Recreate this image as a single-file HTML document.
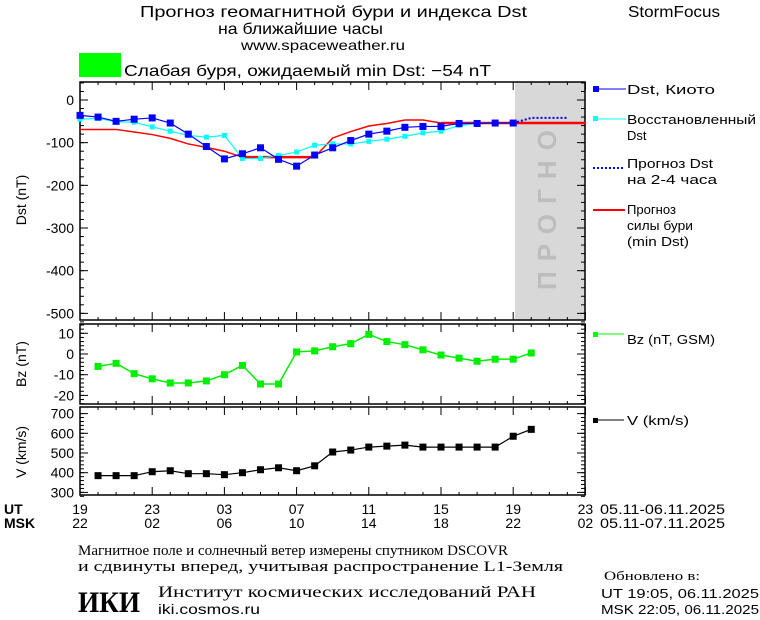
<!DOCTYPE html>
<html><head><meta charset="utf-8"><style>
body{margin:0;background:#fff;width:760px;height:620px;overflow:hidden}
svg{display:block}
text{font-family:"Liberation Sans","DejaVu Sans",sans-serif;fill:#000}
.s{font-family:"Liberation Serif","DejaVu Serif",serif}
</style></head><body>
<svg id="c" width="760" height="620" xmlns="http://www.w3.org/2000/svg">
<rect width="760" height="620" fill="#fff"/>
<text x="140" y="17" font-size="16" textLength="387" lengthAdjust="spacingAndGlyphs">Прогноз геомагнитной бури и индекса Dst</text>
<text x="218" y="34" font-size="16" textLength="165" lengthAdjust="spacingAndGlyphs">на ближайшие часы</text>
<text x="241" y="50" font-size="14" textLength="164" lengthAdjust="spacingAndGlyphs">www.spaceweather.ru</text>
<text x="628" y="17" font-size="16" textLength="92" lengthAdjust="spacingAndGlyphs">StormFocus</text>
<rect x="79" y="53" width="42" height="24" fill="#00ff00"/>
<text x="124" y="76" font-size="16" textLength="367" lengthAdjust="spacingAndGlyphs">Слабая буря, ожидаемый min Dst: −54 nT</text>
<rect x="515" y="82" width="70" height="238" fill="#d8d8d8"/>
<text transform="translate(556,290) rotate(-90)" font-size="26" font-weight="bold" style="fill:#bdbdbd" textLength="160" lengthAdjust="spacing">ПРОГНО</text>
<g id="g"></g>
<text x="22" y="200" font-size="14" transform="rotate(-90 22 200)" text-anchor="middle" dy="4">Dst (nT)</text>
<text x="22" y="364" font-size="14" transform="rotate(-90 22 364)" text-anchor="middle" dy="4">Bz (nT)</text>
<text x="22" y="452" font-size="14" transform="rotate(-90 22 452)" text-anchor="middle" dy="4">V (km/s)</text>
<g font-size="13">
<rect x="593" y="86" width="6" height="6" fill="#0000ff"/><line x1="599" y1="89" x2="626" y2="89" stroke="#0000ff"/>
<text x="627" y="94" font-size="13" textLength="88" lengthAdjust="spacingAndGlyphs">Dst, Киото</text>
<rect x="593" y="116" width="5" height="5" fill="#00ffff"/><line x1="598" y1="119" x2="626" y2="119" stroke="#00ffff"/>
<text x="627" y="124" font-size="13" textLength="129" lengthAdjust="spacingAndGlyphs">Восстановленный</text><text x="627" y="140" font-size="13">Dst</text>
<line x1="593" y1="168" x2="625" y2="168" stroke="#0000ff" stroke-width="2" stroke-dasharray="2,2"/>
<text x="627" y="168" font-size="13" textLength="86" lengthAdjust="spacingAndGlyphs">Прогноз Dst</text><text x="627" y="184" font-size="13" textLength="90" lengthAdjust="spacingAndGlyphs">на 2-4 часа</text>
<line x1="593" y1="210" x2="625" y2="210" stroke="#ff0000" stroke-width="2"/>
<text x="627" y="214" font-size="13" textLength="49" lengthAdjust="spacingAndGlyphs">Прогноз</text><text x="627" y="230" font-size="13" textLength="66" lengthAdjust="spacingAndGlyphs">силы бури</text><text x="627" y="246" font-size="13" textLength="62" lengthAdjust="spacingAndGlyphs">(min Dst)</text>
<rect x="593" y="332" width="5" height="5" fill="#00ff00"/><line x1="598" y1="334" x2="624" y2="334" stroke="#00ff00"/>
<text x="627" y="344" font-size="13" textLength="88" lengthAdjust="spacingAndGlyphs">Bz (nT, GSM)</text>
<rect x="593" y="418" width="5" height="5" fill="#000"/><line x1="598" y1="420" x2="624" y2="420" stroke="#000"/>
<text x="627" y="425" font-size="13" textLength="62" lengthAdjust="spacingAndGlyphs">V (km/s)</text>
</g>
<text x="4" y="514" font-size="14" font-weight="bold">UT</text>
<text x="4" y="528" font-size="14" font-weight="bold">MSK</text>
<text x="600" y="514" font-size="14" textLength="125" lengthAdjust="spacingAndGlyphs">05.11-06.11.2025</text>
<text x="600" y="528" font-size="14" textLength="125" lengthAdjust="spacingAndGlyphs">05.11-07.11.2025</text>
<text class="s" x="78" y="555" font-size="15" textLength="430" lengthAdjust="spacingAndGlyphs">Магнитное поле и солнечный ветер измерены спутником DSCOVR</text>
<text class="s" x="78" y="571" font-size="15" textLength="485" lengthAdjust="spacingAndGlyphs">и сдвинуты вперед, учитывая распространение L1-Земля</text>
<text class="s" x="78" y="612" font-size="30" font-weight="bold" textLength="62" lengthAdjust="spacingAndGlyphs">ИКИ</text>
<text class="s" x="158" y="597" font-size="16" textLength="378" lengthAdjust="spacingAndGlyphs">Институт космических исследований РАН</text>
<text x="158" y="614" font-size="14" textLength="102" lengthAdjust="spacingAndGlyphs">iki.cosmos.ru</text>
<text class="s" x="604" y="580" font-size="13" textLength="96" lengthAdjust="spacingAndGlyphs">Обновлено в:</text>
<text x="601" y="598" font-size="13" textLength="158" lengthAdjust="spacingAndGlyphs">UT   19:05, 06.11.2025</text>
<text x="601" y="614" font-size="13" textLength="158" lengthAdjust="spacingAndGlyphs">MSK 22:05, 06.11.2025</text>
</svg>
<script>
const g=document.getElementById('g');let h='';
const X=k=>80+18.05*k;
function frame(y0,y1){h+=`<rect x="80" y="${y0}" width="505" height="${y1-y0}" fill="none" stroke="#000" stroke-width="1.5"/>`;
 for(let k=0;k<=28;k++){const x=X(k);const L=k%4==0?8:3;h+=`<line x1="${x}" y1="${y1}" x2="${x}" y2="${y1-L}" stroke="#000"/><line x1="${x}" y1="${y0}" x2="${x}" y2="${y0+L}" stroke="#000"/>`;}}
function yt(vals,f,minor,lo,hi){vals.forEach(v=>{const y=f(v);h+=`<text x="74" y="${y+5}" font-size="14" text-anchor="end">${v}</text><line x1="80" y1="${y}" x2="88" y2="${y}" stroke="#000"/><line x1="585" y1="${y}" x2="577" y2="${y}" stroke="#000"/>`;});
 for(let v=lo;v<=hi;v+=minor){const y=f(v);h+=`<line x1="80" y1="${y}" x2="84" y2="${y}" stroke="#000"/><line x1="585" y1="${y}" x2="581" y2="${y}" stroke="#000"/>`;}}
const fD=v=>100-v*0.4267, fB=v=>354-v*2.07, fV=v=>453-(v-500)*0.197;
frame(82,320);frame(324,404);frame(407,495);
yt([0,-100,-200,-300,-400,-500],fD,20,-520,40);
yt([10,0,-10,-20],fB,2,-24,14);
yt([700,600,500,400,300],fV,20,280,700);
function pl(arr,f,c,w,ms,k0){const p=arr.map((v,i)=>[X(i+k0),f(v)]);h+=`<polyline points="${p.map(q=>q.join(',')).join(' ')}" fill="none" stroke="${c}" stroke-width="${w}"/>`;
 if(ms)p.forEach(q=>h+=`<rect x="${q[0]-ms/2}" y="${q[1]-ms/2}" width="${ms}" height="${ms}" fill="${c}"/>`);}
const R=[[0,-69],[2,-69],[3,-75],[4,-81],[5,-90],[6,-103],[7,-111],[8,-120],[9,-134],[13,-134],[14,-89],[15,-74],[16,-61],[17,-55],[18,-47],[19,-47],[20,-54],[28,-54]];
h+=`<polyline points="${R.map(q=>X(q[0])+','+fD(q[1])).join(' ')}" fill="none" stroke="#ff0000" stroke-width="1.5"/>`;
h+=`<line x1="${X(9)}" y1="${fD(-134)}" x2="${X(13)}" y2="${fD(-134)}" stroke="#ff0000" stroke-width="2.5"/><line x1="${X(20)}" y1="${fD(-54)}" x2="585" y2="${fD(-54)}" stroke="#ff0000" stroke-width="2.5"/>`;
pl([-45,-43,-51,-52,-63,-73,-83,-87,-83,-137,-137,-130,-122,-106,-103,-103,-97,-92,-85,-77,-73,-60,-55,-54,-54],fD,'#00ffff',1.2,5,0);
pl([-36,-40,-50,-45,-42,-54,-80,-109,-138,-126,-112,-139,-155,-129,-112,-95,-80,-73,-64,-62,-62,-55,-55,-54,-54],fD,'#0000ff',1.2,7,0);
h+=`<polyline points="${X(24)},${fD(-54)} ${X(25)},${fD(-42)} ${X(27)},${fD(-42)}" fill="none" stroke="#0000ff" stroke-width="2" stroke-dasharray="2,2"/>`;
pl([-6,-4.5,-9.5,-12,-14,-14,-13,-10,-5.5,-14.5,-14.5,1,1.5,3.5,5,9.5,6,4.5,2,-0.5,-2,-3.5,-2.5,-2.5,0.5],fB,'#00ee00',1.5,7,1);
pl([385,385,385,405,410,395,395,390,400,415,425,410,435,505,515,530,535,540,530,530,530,530,530,585,620],fV,'#000',1.2,7,1);
const ut=['19','23','03','07','11','15','19','23'],ms=['22','02','06','10','14','18','22','02'];
ut.forEach((t,i)=>{const x=X(i*4);h+=`<text x="${x}" y="514" font-size="14" text-anchor="middle">${t}</text><text x="${x}" y="528" font-size="14" text-anchor="middle">${ms[i]}</text>`;});
g.innerHTML=h;
</script>
</body></html>
